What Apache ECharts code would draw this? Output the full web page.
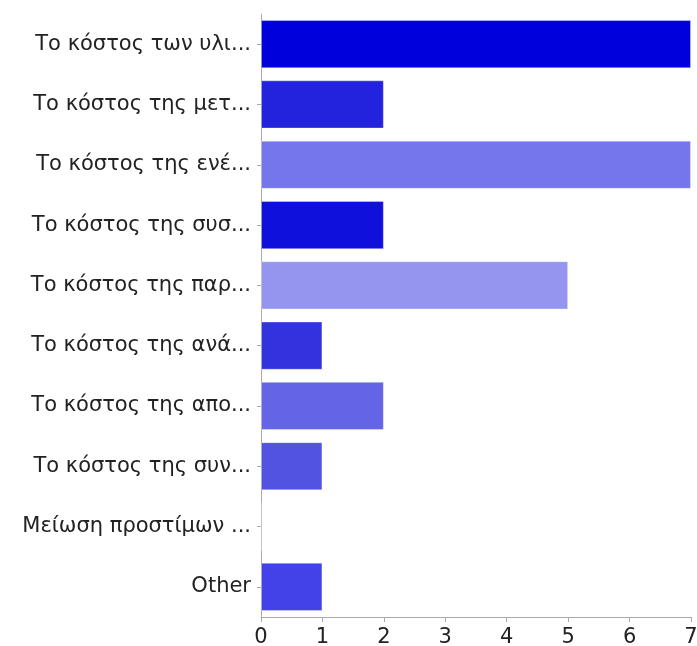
<!DOCTYPE html>
<html>
<head>
<meta charset="utf-8">
<script src="https://cdn.jsdelivr.net/npm/echarts@6/dist/echarts.min.js"></script>
<style>
  html, body { margin: 0; padding: 0; background: #fff; }
  #chart { width: 697px; height: 646px; }
</style>
</head>
<body>
<div id="chart"></div>
<script>
// Answer options, top to bottom
const categories = [
  'Το κόστος των υλι...',
  'Το κόστος της μετ...',
  'Το κόστος της ενέ...',
  'Το κόστος της συσ...',
  'Το κόστος της παρ...',
  'Το κόστος της ανά...',
  'Το κόστος της απο...',
  'Το κόστος της συν...',
  'Μείωση προστίμων ...',
  'Other'
];
// Number of responses per option
const counts = [7, 2, 7, 2, 5, 1, 2, 1, 0, 1];
// Fill colour per bar
const barColors = ['#0000dc', '#2323dd', '#7676ec', '#1010dc', '#9595f0', '#3333dd', '#6464e6', '#5353e2', '#4444e6', '#4242e8'];
const xTicks = [0, 1, 2, 3, 4, 5, 6, 7];

const FONT = 'DejaVu Sans, Verdana, sans-serif';

const chart = echarts.init(document.getElementById('chart'), null, { renderer: 'canvas' });
chart.setOption({
  animation: false,
  grid: { left: 261, right: 6, top: 14, bottom: 29, containLabel: false, outerBoundsMode: 'none' },
  xAxis: {
    type: 'value',
    min: xTicks[0],
    max: xTicks[xTicks.length - 1],
    interval: 1,
    splitLine: { show: false },
    axisLine: { show: true, lineStyle: { color: '#aaaaaa', width: 1 } },
    axisTick: { show: true, length: 5, lineStyle: { color: '#aaaaaa' } },
    axisLabel: { color: '#222', fontSize: 21, fontFamily: FONT, margin: 10 }
  },
  yAxis: {
    type: 'category',
    inverse: true,
    data: categories,
    axisLine: { show: true, lineStyle: { color: '#aaaaaa', width: 1 } },
    axisTick: { show: true, alignWithLabel: true, length: 4, lineStyle: { color: '#aaaaaa' } },
    axisLabel: { color: '#222', fontSize: 21, fontFamily: FONT, margin: 10 }
  },
  series: [{
    type: 'bar',
    data: counts.map((v, i) => ({
      value: v,
      itemStyle: { color: barColors[i], borderColor: 'rgba(255,255,255,0.35)', borderWidth: 1 }
    })),
    barCategoryGap: '20%'
  }]
});
</script>
</body>
</html>
